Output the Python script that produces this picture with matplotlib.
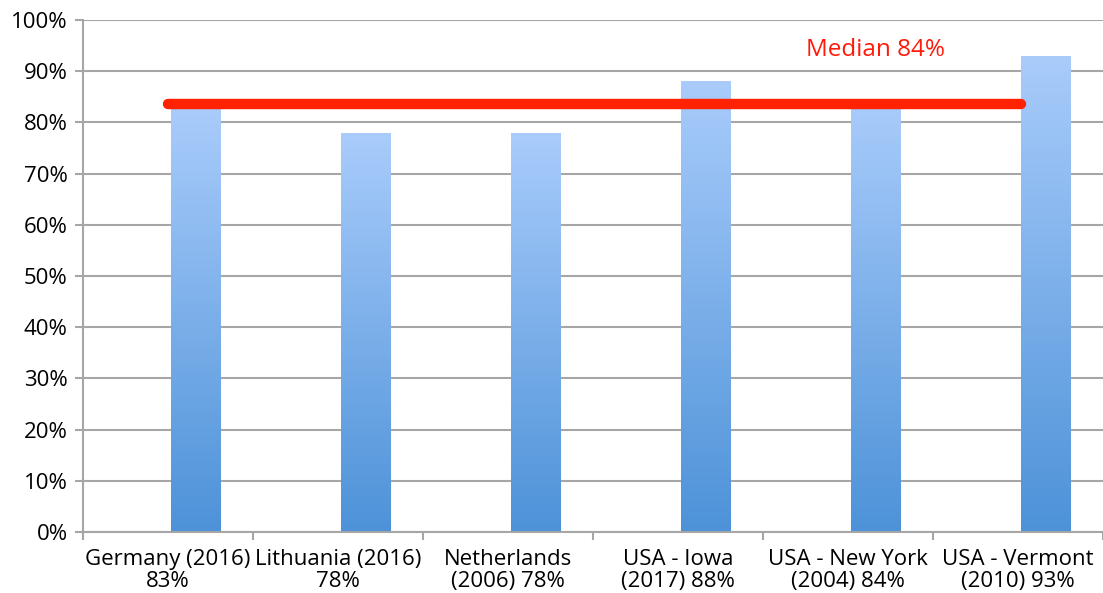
import numpy as np
import matplotlib.pyplot as plt
from matplotlib.colors import LinearSegmentedColormap
from matplotlib.ticker import FuncFormatter, FixedLocator

plt.rcParams["font.family"] = ["Open Sans", "DejaVu Sans"]

categories = [
    "Germany (2016)\n83%",
    "Lithuania (2016)\n78%",
    "Netherlands\n(2006) 78%",
    "USA - Iowa\n(2017) 88%",
    "USA - New York\n(2004) 84%",
    "USA - Vermont\n(2010) 93%",
]
values = [83, 78, 78, 88, 84, 93]
median_value = 83.6
median_label = "Median 84%"

GRID = "#A6A6A6"
RED = "#FF2200"
grad = LinearSegmentedColormap.from_list("bars", ["#4D92D8", "#A9CCFB"])

fig = plt.figure(figsize=(11.03, 5.93), dpi=100)
ax = fig.add_axes([83 / 1103, 1 - 532 / 593, 1 - 83 / 1103, (532 - 20) / 593])

x = np.arange(len(categories))
bars = ax.bar(x + 0.16, values, width=0.29, color="none", zorder=2)
gradient = np.linspace(0, 1, 256).reshape(-1, 1)
for b in bars:
    x0, y0 = b.get_x(), b.get_y()
    im = ax.imshow(gradient, cmap=grad, aspect="auto", origin="lower",
                   extent=[x0, x0 + b.get_width(), y0, y0 + b.get_height()],
                   zorder=2)
    im.set_clip_path(b)

ax.plot([x[0], x[-1] + 0.02], [median_value, median_value], color=RED, lw=7.5,
        solid_capstyle="round", zorder=3)
ax.text(4.16, 94.1, median_label, color="#FF1A0A", fontsize=17.5, ha="center",
        va="center")

ax.set_xlim(-0.5, len(categories) - 0.5)
ax.set_ylim(0, 100)
ax.set_yticks(np.arange(0, 101, 10))
ax.yaxis.set_major_formatter(FuncFormatter(lambda v, p: f"{v:.0f}%"))
ax.grid(axis="y", color=GRID, lw=1.5, zorder=0)
ax.set_axisbelow(True)

ax.set_xticks(x)
ax.set_xticklabels(categories, fontsize=16, linespacing=1.1)
ax.xaxis.set_minor_locator(FixedLocator(np.arange(-0.5, len(categories), 1)))
ax.tick_params(axis="x", which="major", length=0, pad=12)
ax.tick_params(axis="x", which="minor", length=6, width=1.5, color=GRID)
ax.tick_params(axis="y", length=6, width=1.5, color=GRID, labelsize=16, pad=5)

for side in ["top", "right"]:
    ax.spines[side].set_visible(False)
for side in ["left", "bottom"]:
    ax.spines[side].set_color(GRID)
    ax.spines[side].set_linewidth(1.5)

fig.savefig("out.png", dpi=100)
